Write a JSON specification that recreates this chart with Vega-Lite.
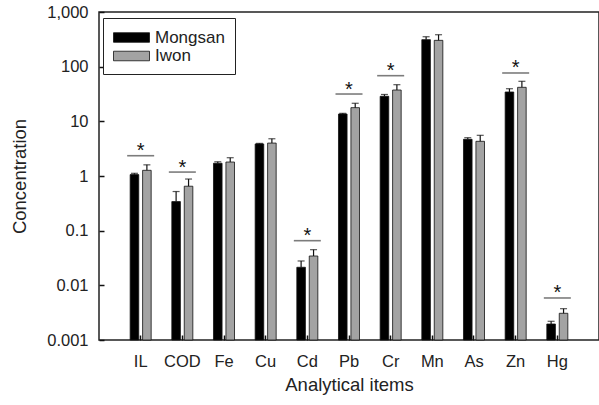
{
  "$schema": "https://vega.github.io/schema/vega-lite/v6.json",
  "width": 500,
  "height": 328,
  "autosize": "none",
  "padding": {"left": 99, "top": 12, "right": 0, "bottom": 65},
  "background": "white",
  "config": {
    "view": {"stroke": "#222", "strokeWidth": 1.5},
    "font": "Liberation Sans",
    "axis": {"grid": false, "domain": false, "zindex": 2, "labelColor": "#222", "titleColor": "#222", "tickColor": "#111", "tickWidth": 1.5, "labelFontSize": 16.5, "titleFontSize": 18.5, "titleFontWeight": "normal", "labelFont": "Liberation Sans", "titleFont": "Liberation Sans"}
  },
  "datasets": {
    "bars": [
      {"item": "IL", "series": "Mongsan", "value": 1.06, "err": 1.12},
      {"item": "IL", "series": "Iwon", "value": 1.27, "err": 1.6},
      {"item": "COD", "series": "Mongsan", "value": 0.34, "err": 0.52},
      {"item": "COD", "series": "Iwon", "value": 0.65, "err": 0.88},
      {"item": "Fe", "series": "Mongsan", "value": 1.71, "err": 1.82},
      {"item": "Fe", "series": "Iwon", "value": 1.8, "err": 2.16},
      {"item": "Cu", "series": "Mongsan", "value": 3.86, "err": 3.95},
      {"item": "Cu", "series": "Iwon", "value": 4.0, "err": 4.8},
      {"item": "Cd", "series": "Mongsan", "value": 0.0214, "err": 0.0279},
      {"item": "Cd", "series": "Iwon", "value": 0.0344, "err": 0.0449},
      {"item": "Pb", "series": "Mongsan", "value": 13.6, "err": 14.0},
      {"item": "Pb", "series": "Iwon", "value": 17.8, "err": 21.4},
      {"item": "Cr", "series": "Mongsan", "value": 28.7, "err": 31.0},
      {"item": "Cr", "series": "Iwon", "value": 37.4, "err": 46.8},
      {"item": "Mn", "series": "Mongsan", "value": 312, "err": 353},
      {"item": "Mn", "series": "Iwon", "value": 303, "err": 384},
      {"item": "As", "series": "Mongsan", "value": 4.69, "err": 5.02},
      {"item": "As", "series": "Iwon", "value": 4.31, "err": 5.55},
      {"item": "Zn", "series": "Mongsan", "value": 34.4, "err": 39.5},
      {"item": "Zn", "series": "Iwon", "value": 41.9, "err": 54},
      {"item": "Hg", "series": "Mongsan", "value": 0.00196, "err": 0.0022},
      {"item": "Hg", "series": "Iwon", "value": 0.00308, "err": 0.00374}
    ],
    "sig": [
      {"item": "IL", "sig": 2.35, "mark": "*"},
      {"item": "COD", "sig": 1.18, "mark": "*"},
      {"item": "Cd", "sig": 0.0656, "mark": "*"},
      {"item": "Pb", "sig": 31.6, "mark": "*"},
      {"item": "Cr", "sig": 68.4, "mark": "*"},
      {"item": "Zn", "sig": 76.6, "mark": "*"},
      {"item": "Hg", "sig": 0.00587, "mark": "*"}
    ]
  },
  "encoding": {
    "x": {
      "field": "item", "type": "nominal",
      "sort": ["IL", "COD", "Fe", "Cu", "Cd", "Pb", "Cr", "Mn", "As", "Zn", "Hg"],
      "scale": {"paddingInner": 0, "paddingOuter": 0.5},
      "axis": {"title": "Analytical items", "labelAngle": 0, "tickSize": -5, "labelPadding": 18, "titlePadding": 6}
    }
  },
  "layer": [
    {
      "data": {"name": "bars"},
      "mark": {"type": "bar", "stroke": "#111", "strokeWidth": 0.8},
      "encoding": {
        "xOffset": {"field": "series", "type": "nominal", "sort": ["Mongsan", "Iwon"], "scale": {"paddingInner": 0.31, "paddingOuter": 0.83}},
        "y": {
          "field": "value", "type": "quantitative",
          "scale": {"type": "log", "domain": [0.001, 1000]},
          "axis": {"title": "Concentration", "values": [0.001, 0.01, 0.1, 1, 10, 100, 1000], "format": ",", "tickSize": -5, "labelPadding": 16, "titlePadding": 17}
        },
        "y2": {"datum": 0.001},
        "fill": {
          "field": "series", "type": "nominal", "sort": ["Mongsan", "Iwon"],
          "scale": {"domain": ["Mongsan", "Iwon"], "range": ["#000000", "#a3a3a3"]},
          "legend": {
            "title": null, "orient": "none", "legendX": 4, "legendY": 6,
            "strokeColor": "#222", "padding": 10, "fillColor": "white",
            "symbolType": "M0,-0.53H4V0.53H0Z", "symbolSize": 324, "symbolOffset": -9,
            "symbolStrokeColor": "#111", "symbolStrokeWidth": 0.8,
            "labelFontSize": 17, "labelOffset": 32, "rowPadding": 0.5, "labelColor": "#222"
          }
        }
      }
    },
    {
      "data": {"name": "bars"},
      "mark": {"type": "rule", "color": "#111", "strokeWidth": 1.2},
      "encoding": {
        "xOffset": {"field": "series", "type": "nominal", "sort": ["Mongsan", "Iwon"]},
        "y": {"field": "value", "type": "quantitative"},
        "y2": {"field": "err"}
      }
    },
    {
      "data": {"name": "bars"},
      "mark": {"type": "tick", "color": "#111", "thickness": 1.2, "size": 7, "orient": "horizontal"},
      "encoding": {
        "xOffset": {"field": "series", "type": "nominal", "sort": ["Mongsan", "Iwon"]},
        "y": {"field": "err", "type": "quantitative"}
      }
    },
    {
      "data": {"name": "sig"},
      "mark": {"type": "tick", "color": "#444", "thickness": 1.6, "size": 27, "orient": "horizontal"},
      "encoding": {
        "y": {"field": "sig", "type": "quantitative"}
      }
    },
    {
      "data": {"name": "sig"},
      "mark": {"type": "text", "fontSize": 20, "font": "Liberation Sans", "baseline": "alphabetic", "dy": 1.5, "color": "#111"},
      "encoding": {
        "y": {"field": "sig", "type": "quantitative"},
        "text": {"field": "mark"}
      }
    }
  ]
}
